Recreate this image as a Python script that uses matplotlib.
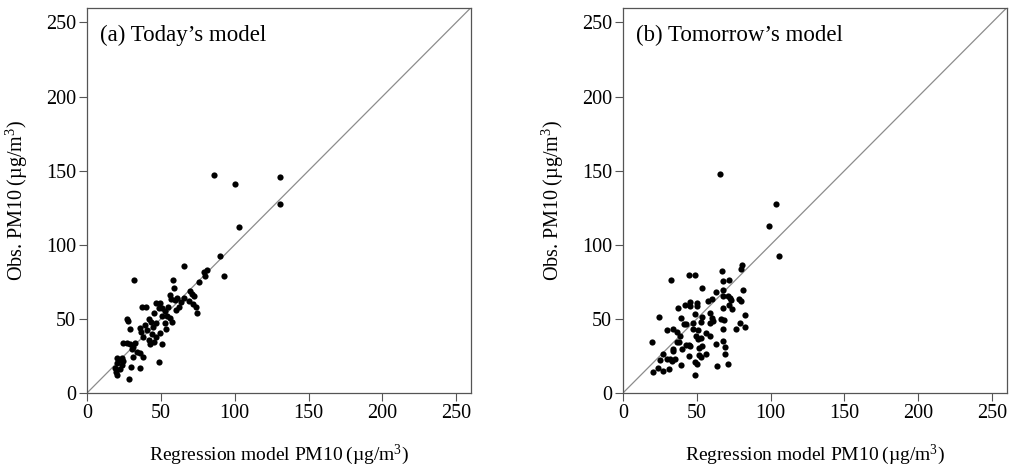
import matplotlib
matplotlib.use("Agg")
import matplotlib.pyplot as plt

plt.rcParams['font.family'] = ['Liberation Serif', 'DejaVu Serif']
plt.rcParams['mathtext.fontset'] = 'custom'
plt.rcParams['mathtext.rm'] = 'Liberation Serif'
plt.rcParams['mathtext.it'] = 'Liberation Serif:italic'

# --- Data: (a) today's model ---
today_model = [85.8, 100, 130.4, 130.4, 103.2, 90.1, 92.8, 65.8, 31.8, 80.9,
               79.3, 80, 75.9, 58.1, 59.2, 69.6, 71, 72.7, 68.9, 71.8,
               73.6, 74.8, 56.1, 57, 59.5, 62.4, 63.3, 65.5, 54.7, 52.7,
               50.9, 47, 49.3, 50.5, 48.4, 41.9, 37.2, 39.9, 45.3, 47,
               44.8, 43, 40.3, 39.2, 35.8, 53.8, 57.7, 56.1, 52.7, 49.3,
               50.9, 46.6, 45.3, 42.6, 38.1, 26.8, 27.5, 28.8, 24.5, 26.8,
               29, 32.4, 31.3, 30.2, 33.6, 35.8, 38.1, 31, 20, 22.3,
               24.5, 20.5, 23.4, 18.9, 20, 28.6, 35.8, 29.5, 48.9, 19.6,
               22, 24, 60.5, 54, 44, 42, 36.5, 61]
today_obs = [147.3, 141.2, 145.5, 127.3, 112.2, 92.1, 78.8, 86, 75.9, 83.1,
             81.3, 78.6, 74.8, 76.1, 70.5, 68.9, 66.9, 65.1, 62.2, 60.1,
             58.1, 54.1, 66.2, 63.5, 62.8, 58.3, 61.3, 64.4, 58.3, 55,
             52, 61, 60.6, 57.2, 57.2, 50.2, 57.7, 58.3, 53.8, 47.1,
             44.8, 48.2, 42.6, 46, 43.7, 43, 48.2, 50.5, 47.1, 40.3,
             32.9, 38.1, 34.7, 32.9, 38.1, 50, 48.4, 43, 33.6, 34,
             33.1, 33.6, 31.3, 29.5, 27.9, 26.8, 24.5, 24.5, 23.4, 22.3,
             21.4, 20, 18.9, 16.7, 12.2, 9.5, 16.7, 17.8, 20.9, 14.4,
             16.5, 23.5, 56, 52, 40, 36, 41, 64]

# --- Data: (b) tomorrow's model ---
tomorrow_model = [65.8, 103.8, 99.1, 105.4, 80.9, 79.7, 66.9, 44.8, 48.9, 32.7,
                  71.6, 67.8, 53.6, 62.8, 67.8, 81.1, 71.4, 72.7, 67.8, 73.4,
                  78.6, 80.2, 60.6, 57.7, 50.2, 50.2, 45.3, 45.3, 41.7, 37.4,
                  71.6, 73.9, 67.8, 58.8, 60.3, 61, 58.8, 53.6, 52.5, 48.9,
                  47.5, 43, 39.6, 24.5, 66.7, 68.5, 82.9, 79, 82.9, 76.8,
                  67.8, 47.5, 50.7, 49.3, 50.9, 53.1, 56.5, 58.8, 62.8, 67.8,
                  68.9, 68.9, 70.9, 63.7, 53.6, 51.6, 53.1, 51.6, 55.9, 48.6,
                  50.2, 48.9, 44.6, 42.6, 44.8, 40.3, 37.6, 36.3, 33.6, 29.5,
                  36.3, 19.4, 34, 33.6, 31.8, 35.1, 32.9, 29.5, 27.3, 25,
                  23.9, 27.3, 20.5, 31.3, 39.6, 38.5, 45.7, 41.4]
tomorrow_obs = [147.6, 127.4, 112.5, 92.5, 86.4, 83.4, 82.3, 79.4, 79.4, 76.4,
                76.4, 75.3, 70.6, 68.1, 69.3, 69.3, 65.4, 64.3, 65.4, 62.7,
                63.2, 61.8, 63.2, 61.8, 60.5, 58.7, 61.6, 58.7, 59.3, 57.1,
                59.3, 56.4, 57.1, 54.2, 50.8, 48.5, 47.4, 51.2, 47.9, 53,
                47.4, 46.3, 50.3, 51.2, 50.1, 49.2, 52.6, 47, 44.3, 43.2,
                43.2, 42.9, 42.5, 38.4, 36.6, 37.3, 40.2, 38.6, 33, 35.3,
                31.2, 26, 19.7, 17.9, 31.9, 30.5, 24.4, 25.6, 26, 21.1,
                19.3, 12, 24.9, 32.3, 32.3, 29.4, 34.3, 34.3, 42.9, 42.2,
                41.1, 34.6, 29.4, 28.3, 23.1, 22.6, 21.5, 22.6, 26, 22.1,
                16.9, 14.6, 14.1, 16.3, 18.8, 38.4, 31.7, 46.3]

ticks = [0, 50, 100, 150, 200, 250]
panels = [("(a) Today\u2019s model", today_model, today_obs, 0.086),
          ("(b) Tomorrow\u2019s model", tomorrow_model, tomorrow_obs, 0.6156)]

fig = plt.figure(figsize=(10.12, 4.66), dpi=100)

for title, xs, ys, left in panels:
    ax = fig.add_axes([left, 0.1567, 0.3794, 0.827])
    ax.plot([0, 260], [0, 260], color='#8c8c8c', lw=0.9, zorder=1)
    ax.scatter(xs, ys, s=20, marker='o', color='black', linewidths=0, zorder=2)
    ax.set_xlim(0, 260)
    ax.set_ylim(0, 260)
    ax.set_xticks(ticks)
    ax.set_yticks(ticks)
    ax.tick_params(labelsize=14.5, length=6, width=0.8, pad=2, color='#555555', direction='out')
    for sp in ax.spines.values():
        sp.set_color('#555555')
        sp.set_linewidth(0.9)
    ax.text(0.034, 0.955, title, transform=ax.transAxes, fontsize=16.5, va='top', ha='left')
    ax.set_xlabel('Regression model PM10\u2009(\u00b5g/m$^{3}$)', fontsize=14)
    ax.set_ylabel('Obs. PM10\u2009(\u00b5g/m$^{3}$)', fontsize=14.5)
    ax.xaxis.set_label_coords(0.5, -0.128)
    ax.yaxis.set_label_coords(-0.148, 0.5)

fig.savefig("out.png", dpi=100)
